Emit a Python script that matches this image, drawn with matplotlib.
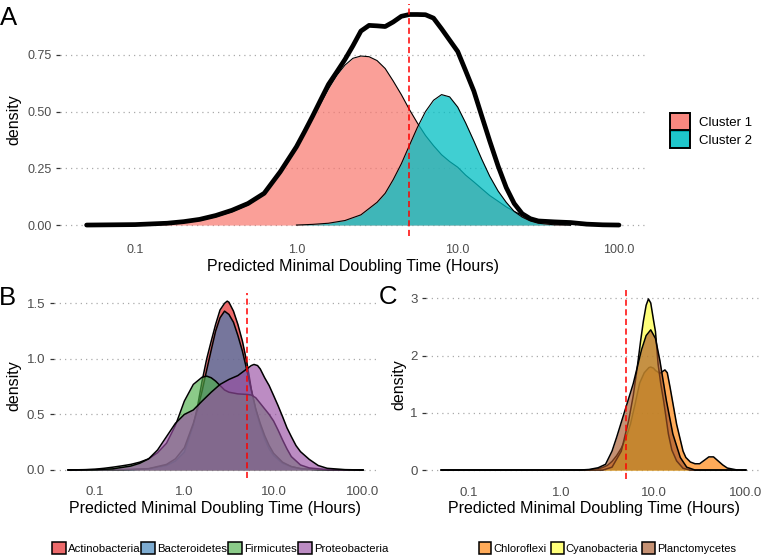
import matplotlib
matplotlib.use("Agg")
import matplotlib.pyplot as plt
from matplotlib.patches import Patch
from matplotlib.colors import to_rgba

plt.rcParams['font.family'] = ['Liberation Sans', 'DejaVu Sans']

# ---------------- data (hours, density) ----------------
x_ticks = [0.1, 1, 10, 100]
x_tick_labels = ["0.1", "1.0", "10.0", "100.0"]
x_title = "Predicted Minimal Doubling Time (Hours)"
y_title = "density"
cutoff_hours = 5

# Panel A
a_total_h = [0.05, 0.1, 0.158, 0.2, 0.251, 0.316, 0.398, 0.501, 0.631, 0.794, 1.0, 1.12, 1.26, 1.41,
             1.58, 1.78, 2.0, 2.24, 2.51, 2.82, 3.16, 3.55, 3.98, 4.47, 5.01, 5.62, 6.31, 7.08, 7.94,
             8.91, 10, 11.2, 12.6, 14.1, 15.8, 17.8, 20, 22.4, 25.1, 28.2, 31.6, 39.8, 50.1, 63.1, 79.4, 100]
a_total_d = [0.0, 0.002, 0.008, 0.015, 0.025, 0.042, 0.065, 0.095, 0.14, 0.235, 0.345, 0.41, 0.48, 0.55,
             0.62, 0.675, 0.73, 0.79, 0.855, 0.88, 0.878, 0.875, 0.895, 0.92, 0.928, 0.928, 0.927, 0.912, 0.865,
             0.815, 0.765, 0.68, 0.59, 0.48, 0.37, 0.26, 0.165, 0.095, 0.05, 0.028, 0.018, 0.014, 0.011, 0.004, 0.001, 0.0]

a_c1_h = [0.05, 0.1, 0.158, 0.2, 0.251, 0.316, 0.398, 0.501, 0.631, 0.794, 1.0, 1.26, 1.58, 1.78, 2.0, 2.24,
          2.51, 2.82, 3.16, 3.55, 3.98, 4.47, 5.01, 5.62, 6.31, 7.08, 7.94, 8.91, 10, 11.2, 12.6, 14.1, 15.8,
          17.8, 20, 22.4, 25.1, 28.2, 31.6, 39.8, 50.1]
a_c1_d = [0.0, 0.001, 0.005, 0.011, 0.02, 0.036, 0.058, 0.088, 0.135, 0.225, 0.335, 0.47, 0.60, 0.66, 0.705, 0.735,
          0.745, 0.742, 0.725, 0.69, 0.635, 0.575, 0.51, 0.45, 0.395, 0.35, 0.31, 0.28, 0.255, 0.22, 0.19, 0.16, 0.13,
          0.105, 0.08, 0.06, 0.043, 0.028, 0.017, 0.004, 0.0]

a_c2_h = [1.0, 1.26, 1.58, 2.0, 2.51, 3.16, 3.55, 3.98, 4.47, 5.01, 5.62, 6.31, 7.08, 7.94, 8.91, 10, 11.2,
          12.6, 14.1, 15.8, 17.8, 20, 22.4, 25.1, 28.2, 31.6, 39.8, 50.1]
a_c2_d = [0.0, 0.003, 0.008, 0.02, 0.045, 0.1, 0.14, 0.2, 0.27, 0.35, 0.43, 0.5, 0.55, 0.575, 0.565, 0.52, 0.45,
          0.37, 0.29, 0.215, 0.15, 0.1, 0.06, 0.035, 0.018, 0.008, 0.001, 0.0]

# Panel B
b_act_h = [0.05, 0.251, 0.398, 0.631, 0.794, 1.0, 1.26, 1.41, 1.58, 1.78, 2.0, 2.24, 2.51, 2.82, 3.02, 3.16,
           3.55, 3.98, 4.47, 5.01, 5.62, 6.31, 7.08, 7.94, 8.91, 10, 12.6, 15.8, 20, 31.6, 100]
b_act_d = [0.0, 0.002, 0.01, 0.04, 0.08, 0.16, 0.40, 0.58, 0.80, 1.0, 1.16, 1.31, 1.44, 1.50, 1.52, 1.51,
           1.43, 1.31, 1.16, 0.97, 0.73, 0.54, 0.40, 0.28, 0.19, 0.13, 0.06, 0.03, 0.012, 0.002, 0.0]

b_bac_h = [0.05, 0.2, 0.398, 0.631, 0.794, 1.0, 1.26, 1.41, 1.58, 1.78, 2.0, 2.24, 2.51, 2.82, 3.16, 3.55,
           3.98, 4.47, 5.01, 5.62, 6.31, 7.08, 7.94, 8.91, 10, 12.6, 15.8, 20, 31.6, 100]
b_bac_d = [0.0, 0.002, 0.012, 0.05, 0.1, 0.2, 0.42, 0.55, 0.71, 0.9, 1.08, 1.25, 1.37, 1.43, 1.40, 1.33,
           1.21, 1.07, 0.90, 0.72, 0.55, 0.42, 0.31, 0.22, 0.15, 0.07, 0.03, 0.012, 0.002, 0.0]

b_fir_h = [0.05, 0.079, 0.1, 0.126, 0.158, 0.2, 0.251, 0.316, 0.398, 0.501, 0.631, 0.794, 1.0, 1.26, 1.58,
           1.78, 2.0, 2.24, 2.51, 2.82, 3.16, 3.98, 5.01, 5.62, 6.31, 7.08, 7.94, 8.91, 10, 11.2, 12.6, 14.1,
           15.8, 20, 25.1, 39.8, 100]
b_fir_d = [0.0, 0.003, 0.007, 0.015, 0.025, 0.037, 0.05, 0.07, 0.10, 0.155, 0.24, 0.40, 0.62, 0.77, 0.835,
           0.845, 0.83, 0.80, 0.76, 0.72, 0.70, 0.685, 0.68, 0.675, 0.65, 0.60, 0.55, 0.50, 0.44, 0.36, 0.27, 0.19,
           0.12, 0.045, 0.018, 0.003, 0.0]

b_pro_h = [0.05, 0.1, 0.158, 0.251, 0.316, 0.398, 0.501, 0.631, 0.794, 1.0, 1.26, 1.58, 2.0, 2.51, 3.16, 3.98,
           5.01, 5.62, 6.03, 6.61, 7.08, 7.94, 8.91, 10, 11.2, 12.6, 14.1, 15.8, 17.8, 20, 25.1, 31.6, 39.8,
           63.1, 100]
b_pro_d = [0.0, 0.003, 0.01, 0.035, 0.06, 0.10, 0.18, 0.30, 0.42, 0.50, 0.54, 0.62, 0.70, 0.77, 0.815, 0.85,
           0.91, 0.94, 0.95, 0.94, 0.91, 0.83, 0.76, 0.67, 0.58, 0.48, 0.38, 0.30, 0.22, 0.165, 0.095, 0.04, 0.015,
           0.003, 0.0]

# Panel C
c_chl_h = [0.05, 1.58, 2.0, 2.51, 2.82, 3.16, 3.55, 3.98, 4.47, 5.01, 5.62, 6.31, 7.08, 7.94, 8.91, 9.33, 10,
           10.5, 11.7, 13.3, 14.1, 15.1, 17.8, 20.9, 22.4, 25.1, 28.2, 31.6, 35.5, 39.8, 44.7, 50.1, 56.2, 63.1,
           79.4, 100]
c_chl_d = [0.0, 0.0, 0.003, 0.02, 0.045, 0.08, 0.15, 0.25, 0.38, 0.55, 0.80, 1.15, 1.52, 1.70, 1.79, 1.80, 1.78,
           1.74, 1.69, 1.75, 1.70, 1.45, 0.80, 0.33, 0.22, 0.14, 0.11, 0.11, 0.17, 0.23, 0.23, 0.16, 0.09, 0.035,
           0.003, 0.0]

c_cya_h = [0.05, 2.82, 3.55, 4.47, 5.37, 6.03, 6.61, 7.24, 7.76, 8.32, 8.81, 9.33, 10, 10.5, 11.2, 12.0, 12.9,
           14.5, 15.8, 17.8, 20.9, 25.1, 100]
c_cya_d = [0.0, 0.0, 0.05, 0.33, 0.86, 1.3, 1.75, 2.25, 2.60, 2.88, 2.99, 2.92, 2.62, 2.42, 1.86, 1.5, 1.2,
           0.63, 0.35, 0.16, 0.03, 0.0, 0.0]

c_pla_h = [0.05, 1.58, 2.0, 2.51, 3.02, 3.55, 3.98, 4.9, 6.03, 7.41, 8.32, 9.33, 10.5, 11.7, 13.8, 16.2, 19.5,
           22.9, 28.2, 100]
c_pla_d = [0.0, 0.0, 0.01, 0.04, 0.10, 0.33, 0.57, 1.04, 1.51, 2.1, 2.35, 2.45, 2.3, 1.92, 1.21, 0.63, 0.22,
           0.05, 0.0, 0.0]

a_labels = ["Cluster 1", "Cluster 2"]
a_colors = ["#F8766D", "#00BFC4"]
b_labels = ["Actinobacteria", "Bacteroidetes", "Firmicutes", "Proteobacteria"]
b_colors = ["#E41A1C", "#377EB8", "#4DAF4A", "#984EA3"]
c_labels = ["Chloroflexi", "Cyanobacteria", "Planctomycetes"]
c_colors = ["#FF7F00", "#FFFF33", "#A65628"]

a_yticks = [0, 0.25, 0.5, 0.75]
a_ylabels = ["0.00", "0.25", "0.50", "0.75"]
b_yticks = [0, 0.5, 1.0, 1.5]
b_ylabels = ["0.0", "0.5", "1.0", "1.5"]
c_yticks = [0, 1, 2, 3]
c_ylabels = ["0", "1", "2", "3"]

# ---------------- figure ----------------
W, H = 762, 556
fig = plt.figure(figsize=(W / 100, H / 100), dpi=100)


def px_axes(l, t, r, b):
    return fig.add_axes([l / W, 1 - b / H, (r - l) / W, (b - t) / H])


axA = px_axes(60, 3.5, 645.6, 235.6)
axB = px_axes(53.5, 292.7, 377.6, 478.4)
axC = px_axes(426, 290.4, 761, 478.6)

TICK_COLOR = "#4D4D4D"


def style(ax, yticks, ylabels, ylim, fs):
    ax.set_xscale("log")
    ax.set_xlim(10 ** -1.466, 10 ** 2.165)
    ax.set_ylim(*ylim)
    ax.set_xticks(x_ticks)
    ax.set_xticklabels(x_tick_labels)
    ax.xaxis.set_minor_locator(matplotlib.ticker.NullLocator())
    ax.set_yticks(yticks)
    ax.set_yticklabels(ylabels)
    for s in ax.spines.values():
        s.set_visible(False)
    ax.tick_params(axis="x", length=0, pad=5.8, labelsize=fs, labelcolor=TICK_COLOR)
    ax.tick_params(axis="y", length=3, width=0.9, color="#333333", pad=3,
                   labelsize=fs, labelcolor=TICK_COLOR)
    ax.grid(axis="y", linestyle=(0, (1, 3.2)), color="#AAAAAA", lw=0.9)
    ax.grid(axis="x", visible=False)
    ax.set_axisbelow(True)
    ax.patch.set_alpha(0)
    ax.axvline(cutoff_hours, color="#FF0000", lw=1.1, ls=(0, (4, 2.3)), zorder=6)


def density(ax, h, d, color, alpha, lw=1.0, z=2):
    ax.fill_between(h, d, 0, color=color, alpha=alpha, lw=0, zorder=z)
    ax.plot(h, d, color="black", lw=lw, zorder=z)


# Panel A
density(axA, a_c1_h, a_c1_d, a_colors[0], 0.7, lw=0.8, z=2)
density(axA, a_c2_h, a_c2_d, a_colors[1], 0.75, lw=0.8, z=3)
axA.plot(a_total_h, a_total_d, color="black", lw=3.4, solid_capstyle="round", zorder=4)
style(axA, a_yticks, a_ylabels, (-0.0465, 0.9765), 9)

# Panel B
for (h, d), c, z in zip([(b_act_h, b_act_d), (b_bac_h, b_bac_d), (b_fir_h, b_fir_d), (b_pro_h, b_pro_d)],
                        b_colors, range(2, 6)):
    density(axB, h, d, c, 0.65, lw=1.1, z=z)
style(axB, b_yticks, b_ylabels, (-0.076, 1.596), 9.5)

# Panel C
for (h, d), c, z in zip([(c_chl_h, c_chl_d), (c_cya_h, c_cya_d), (c_pla_h, c_pla_d)], c_colors, range(2, 5)):
    density(axC, h, d, c, 0.65, lw=1.1, z=z)
style(axC, c_yticks, c_ylabels, (-0.1495, 3.1395), 9.5)

# axis titles
fig.text(352.8 / W, 1 - 266.5 / H, x_title, ha="center", va="center", fontsize=11.5)
fig.text(215.5 / W, 1 - 508 / H, x_title, ha="center", va="center", fontsize=11.5)
fig.text(593.5 / W, 1 - 508 / H, x_title, ha="center", va="center", fontsize=11.5)
fig.text(14 / W, 1 - 119.5 / H, y_title, ha="center", va="center", rotation=90, fontsize=11.5)
fig.text(14 / W, 1 - 385.5 / H, y_title, ha="center", va="center", rotation=90, fontsize=11.5)
fig.text(399 / W, 1 - 384.5 / H, y_title, ha="center", va="center", rotation=90, fontsize=11.5)

# panel letters
fig.text(-0.5 / W, 1 - 25 / H, "A", fontsize=18.5, va="baseline", ha="left")
fig.text(-1.5 / W, 1 - 305 / H, "B", fontsize=18.5, va="baseline", ha="left")
fig.text(378.5 / W, 1 - 304.5 / H, "C", fontsize=18.5, va="baseline", ha="left")

# legends
hA = [Patch(facecolor=to_rgba(c, 0.88), edgecolor="black", linewidth=1.4) for c in a_colors]
fs = 9.5
fig.legend(hA, a_labels, loc="center left", bbox_to_anchor=(669.5 / W, 1 - 130.5 / H), frameon=False,
           fontsize=fs, handlelength=20.5 / (fs * 1.389), handleheight=22.5 / (fs * 1.389), labelspacing=0,
           handletextpad=9 / (fs * 1.389), borderpad=0, borderaxespad=0)

hB = [Patch(facecolor=to_rgba(c, 0.65), edgecolor="black", linewidth=1.1) for c in b_colors]
fs = 8.2
fig.legend(hB, b_labels, loc="center", bbox_to_anchor=(219.9 / W, 1 - 548 / H), frameon=False, ncol=4,
           fontsize=fs, handlelength=14 / (fs * 1.389), handleheight=13.7 / (fs * 1.389),
           handletextpad=2 / (fs * 1.389), columnspacing=1 / (fs * 1.389), borderpad=0, borderaxespad=0)

hC = [Patch(facecolor=to_rgba(c, 0.65), edgecolor="black", linewidth=1.1) for c in c_colors]
fs = 8.0
fig.legend(hC, c_labels, loc="center", bbox_to_anchor=(607.5 / W, 1 - 548 / H), frameon=False, ncol=3,
           fontsize=fs, handlelength=12.8 / (fs * 1.389), handleheight=13.3 / (fs * 1.389),
           handletextpad=2.3 / (fs * 1.389), columnspacing=4 / (fs * 1.389), borderpad=0, borderaxespad=0)

fig.savefig("out.png", dpi=100)
